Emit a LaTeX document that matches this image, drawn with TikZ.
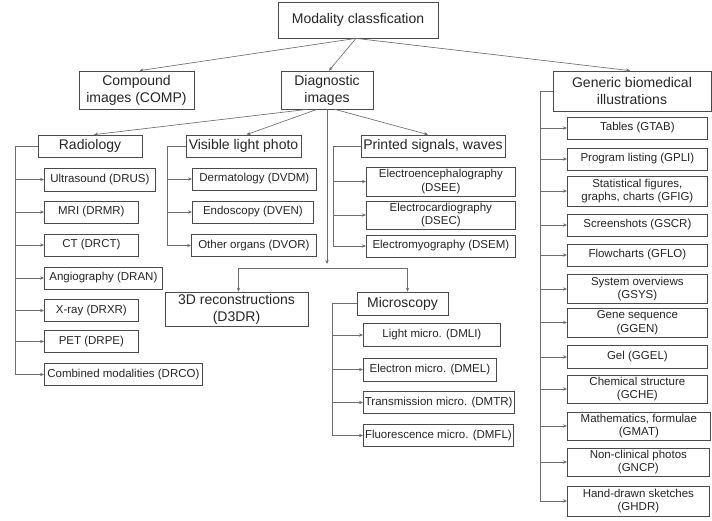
\documentclass[tikz,border=0pt]{standalone}
\usepackage{fontspec}
\setmainfont{Liberation Sans}
\usetikzlibrary{arrows.meta}
\definecolor{txt}{HTML}{262626}
\definecolor{bord}{HTML}{4A4A4A}
\definecolor{conn}{HTML}{6E6E6E}
\begin{document}
\begin{tikzpicture}[x=1pt,y=-1pt,
  box/.style={draw=bord,line width=0.75pt,inner sep=1.5pt,align=center,text=txt},
  head/.style={box,font=\fontsize{14}{17}\selectfont},
  leaf/.style={box,anchor=west,font=\fontsize{11.5}{13.5}\selectfont},
  arr/.style={draw=conn,line width=0.65pt,-{Stealth[length=4pt,width=3.4pt]}}]
\useasboundingbox[fill=white] (0,0) rectangle (712,520);

% top levels
\node[head,minimum width=160,minimum height=36] (mod) at (358,20) {Modality classfication};
\node[head,minimum width=115,minimum height=38] (comp) at (136.5,90) {Compound\\images (COMP)};
\node[head,minimum width=92,minimum height=38] (diag) at (327,90) {Diagnostic\\images};
\node[head,minimum width=158,minimum height=40] (gen) at (632,91) {Generic biomedical\\illustrations};

% diagnostic sub-groups
\node[head,minimum width=104,minimum height=22] (rad) at (90,146) {Radiology};
\node[head,minimum width=115,minimum height=22] (vis) at (243.5,146) {Visible light photo};
\node[head,minimum width=144,minimum height=22] (pri) at (433,146) {Printed signals, waves};
\node[head,minimum width=143,minimum height=34] (d3dr) at (236.5,309) {3D reconstructions\\(D3DR)};
\node[head,minimum width=91,minimum height=23] (mic) at (402.5,303.5) {Microscopy};

% radiology leaves
\node[leaf,minimum width=111,minimum height=23] (drus) at (44,179.5) {Ultrasound (DRUS)};
\node[leaf,minimum width=94,minimum height=22] (drmr) at (44,212) {MRI (DRMR)};
\node[leaf,minimum width=94,minimum height=22] (drct) at (44,245) {CT (DRCT)};
\node[leaf,minimum width=118,minimum height=22] (dran) at (44,278) {Angiography (DRAN)};
\node[leaf,minimum width=94,minimum height=22] (drxr) at (44,310.5) {X-ray (DRXR)};
\node[leaf,minimum width=94,minimum height=22] (drpe) at (44,341.5) {PET (DRPE)};
\node[leaf,minimum width=158,minimum height=22] (drco) at (44,374.5) {Combined modalities (DRCO)};

% visible light leaves
\node[leaf,minimum width=124,minimum height=22] (dvdm) at (192,179) {Dermatology (DVDM)};
\node[leaf,minimum width=121,minimum height=22] (dven) at (192,212) {Endoscopy (DVEN)};
\node[leaf,minimum width=125,minimum height=22] (dvor) at (191,245.5) {Other organs (DVOR)};

% printed signals leaves
\node[leaf,minimum width=149,minimum height=29] (dsee) at (366,181.5) {Electroencephalography\\(DSEE)};
\node[leaf,minimum width=149,minimum height=28] (dsec) at (366,215) {Electrocardiography\\(DSEC)};
\node[leaf,minimum width=149,minimum height=22] (dsem) at (366,246) {Electromyography (DSEM)};

% microscopy leaves
\node[leaf,minimum width=137,minimum height=23] (dmli) at (363,335) {Light micro. (DMLI)};
\node[leaf,minimum width=133,minimum height=23] (dmel) at (363,369.5) {Electron micro. (DMEL)};
\node[leaf,minimum width=150,minimum height=22] (dmtr) at (363,402.5) {Transmission micro. (DMTR)};
\node[leaf,minimum width=150,minimum height=22] (dmfl) at (363,435.5) {Fluorescence micro. (DMFL)};

% generic leaves
\node[leaf,minimum width=140,minimum height=22] (gtab) at (567,128) {Tables (GTAB)};
\node[leaf,minimum width=140,minimum height=22] (gpli) at (567,159) {Program listing (GPLI)};
\node[leaf,minimum width=140,minimum height=30] (gfig) at (567,191) {Statistical figures,\\graphs, charts (GFIG)};
\node[leaf,minimum width=140,minimum height=22] (gscr) at (567,225) {Screenshots (GSCR)};
\node[leaf,minimum width=140,minimum height=22] (gflo) at (567,255) {Flowcharts (GFLO)};
\node[leaf,minimum width=140,minimum height=29] (gsys) at (567,289) {System overviews\\(GSYS)};
\node[leaf,minimum width=140,minimum height=29] (ggen) at (567,322.5) {Gene sequence\\(GGEN)};
\node[leaf,minimum width=140,minimum height=23] (ggel) at (567,357) {Gel (GGEL)};
\node[leaf,minimum width=140,minimum height=28] (gche) at (567,389) {Chemical structure\\(GCHE)};
\node[leaf,minimum width=143,minimum height=28] (gmat) at (567,426) {Mathematics, formulae\\(GMAT)};
\node[leaf,minimum width=142,minimum height=28] (gncp) at (567,462) {Non-clinical photos\\(GNCP)};
\node[leaf,minimum width=142,minimum height=30] (ghdr) at (567,501) {Hand-drawn sketches\\(GHDR)};

% connectors: top
\draw[arr] ([xshift=-2pt]mod.south) -- ([xshift=3pt]comp.north);
\draw[arr] ([xshift=-2pt]mod.south) -- ([xshift=2pt]diag.north);
\draw[arr] ([xshift=-2pt]mod.south) -- ([xshift=-2pt]gen.north);

% diagnostic fan
\draw[arr] ([xshift=-20pt]diag.south) -- ([xshift=4pt]rad.north);
\draw[arr] ([xshift=-10pt]diag.south) -- ([xshift=3pt]vis.north);
\draw[arr] ([xshift=8pt]diag.south) -- ([xshift=-5pt]pri.north);
\coordinate (split) at (327,268);
\draw[arr] (diag.south) -- ([yshift=4pt]split);
\draw[arr] (split) -| ([xshift=2pt]d3dr.north);
\draw[arr] (split) -| ([xshift=5pt]mic.north);

% radiology trunk
\foreach \c in {drus,drmr,drct,dran,drxr,drpe,drco}
  \draw[arr] (rad.west) -| ([xshift=-29pt]\c.west) -- (\c.west);
% visible trunk
\foreach \c in {dvdm,dven}
  \draw[arr] (vis.west) -| ([xshift=-25pt]\c.west) -- (\c.west);
\draw[arr] (vis.west) -| ([xshift=-24pt]dvor.west) -- (dvor.west);
% printed trunk
\foreach \c in {dsee,dsec,dsem}
  \draw[arr] (pri.west) -| ([xshift=-33pt]\c.west) -- (\c.west);
% microscopy trunk
\foreach \c in {dmli,dmel,dmtr,dmfl}
  \draw[arr] (mic.west) -| ([xshift=-31pt]\c.west) -- (\c.west);
% generic trunk
\foreach \c in {gtab,gpli,gfig,gscr,gflo,gsys,ggen,ggel,gche,gmat,gncp,ghdr}
  \draw[arr] (gen.west) -| ([xshift=-27pt]\c.west) -- (\c.west);
\end{tikzpicture}
\end{document}
